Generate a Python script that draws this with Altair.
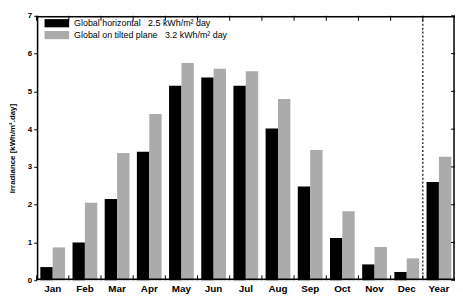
import altair as alt
import pandas as pd

months = ["Jan", "Feb", "Mar", "Apr", "May", "Jun", "Jul", "Aug", "Sep", "Oct", "Nov", "Dec", "Year"]
horizontal = [0.35, 1.0, 2.15, 3.4, 5.15, 5.37, 5.15, 4.02, 2.48, 1.12, 0.42, 0.22, 2.6]
tilted = [0.87, 2.05, 3.37, 4.4, 5.75, 5.6, 5.53, 4.8, 3.45, 1.83, 0.88, 0.58, 3.27]
series = ["Global horizontal\u00a0\u00a0\u00a02.5 kWh/m² day",
          "Global on tilted plane\u00a0\u00a0\u00a03.2 kWh/m² day"]
y_ticks = [0, 1, 2, 3, 4, 5, 6, 7]

rows = []
for m, h, t in zip(months, horizontal, tilted):
    rows.append({"month": m, "series": series[0], "value": h})
    rows.append({"month": m, "series": series[1], "value": t})
df = pd.DataFrame(rows)
mdf = pd.DataFrame({"month": months})
ydf = pd.DataFrame({"value": y_ticks})

W, H = 424, 268
FONT = "Liberation Sans"

xscale = alt.Scale(domain=months, paddingInner=0, paddingOuter=0)
yscale = alt.Scale(domain=[0, 7], nice=False)
xaxis = alt.Axis(title=None, ticks=False, domain=False, labelAngle=0,
                 labelFontSize=10, labelFontWeight="bold", labelColor="black",
                 labelFont=FONT, labelPadding=3)
yaxis = alt.Axis(title="Irradiance [kWh/m².day]", values=y_ticks, format="d",
                 grid=False, domain=False, tickSize=3, tickColor="black",
                 labelOverlap=False,
                 labelFontSize=8, labelFontWeight="bold", labelColor="black",
                 labelFont=FONT, labelPadding=2,
                 titleFontSize=8, titleFont=FONT, titleFontWeight="bold",
                 titleColor="black", titlePadding=11)

bars = alt.Chart(df).mark_bar().encode(
    x=alt.X("month:N", scale=xscale, sort=months, axis=xaxis),
    xOffset=alt.XOffset("series:N", sort=series,
                        scale=alt.Scale(paddingInner=0, paddingOuter=0.3)),
    y=alt.Y("value:Q", scale=yscale, axis=yaxis),
    color=alt.Color("series:N", sort=series,
                    scale=alt.Scale(domain=series, range=["#000000", "#ababab"]),
                    legend=alt.Legend(title=None, orient="none", legendX=16, legendY=3,
                                      padding=0,
                                      symbolType="M-3,-1h6v2h-6z", symbolSize=69,
                                      symbolStrokeWidth=0, labelFontSize=9,
                                      labelFont=FONT, labelColor="black",
                                      rowPadding=2, labelOffset=13,
                                      labelLimit=300)),
)

bottom_ticks = alt.Chart(mdf).mark_rule(color="black", strokeWidth=1).encode(
    x=alt.X("month:N", sort=months, scale=xscale, bandPosition=0, axis=xaxis),
    y=alt.value(H), y2=alt.value(H - 5),
)
top_ticks = alt.Chart(mdf).mark_rule(color="black", strokeWidth=1).encode(
    x=alt.X("month:N", sort=months, scale=xscale, bandPosition=0, axis=xaxis),
    y=alt.value(0), y2=alt.value(5),
)
right_ticks = alt.Chart(ydf).mark_rule(color="black", strokeWidth=1).encode(
    y=alt.Y("value:Q", scale=yscale, axis=yaxis),
    x=alt.value(W - 4), x2=alt.value(W),
)
divider = alt.Chart(pd.DataFrame({"month": ["Year"]})).mark_rule(
    color="black", strokeWidth=1.2, strokeDash=[2, 2]
).encode(
    x=alt.X("month:N", sort=months, scale=xscale, bandPosition=0, axis=xaxis),
    y=alt.value(0), y2=alt.value(H),
)
# frame, nudged just inside the plot edges
frame_top = alt.Chart(pd.DataFrame({"value": [7]})).mark_rule(
    color="black", strokeWidth=1.5, yOffset=1
).encode(
    y=alt.Y("value:Q", scale=yscale, axis=yaxis),
    x=alt.value(0), x2=alt.value(W),
)
frame_bot = alt.Chart(pd.DataFrame({"value": [0]})).mark_rule(
    color="black", strokeWidth=1.5, yOffset=-1
).encode(
    y=alt.Y("value:Q", scale=yscale, axis=yaxis),
    x=alt.value(0), x2=alt.value(W),
)
frame_l = alt.Chart(pd.DataFrame({"month": [months[0]]})).mark_rule(
    color="black", strokeWidth=1.5, xOffset=1
).encode(
    x=alt.X("month:N", sort=months, scale=xscale, bandPosition=0, axis=xaxis),
    y=alt.value(0), y2=alt.value(H),
)
frame_r = alt.Chart(pd.DataFrame({"month": [months[-1]]})).mark_rule(
    color="black", strokeWidth=1.5, xOffset=-1
).encode(
    x=alt.X("month:N", sort=months, scale=xscale, bandPosition=1, axis=xaxis),
    y=alt.value(0), y2=alt.value(H),
)

chart = alt.layer(bars, bottom_ticks, top_ticks, right_ticks, divider,
                  frame_top, frame_bot, frame_l, frame_r).properties(
    width=W, height=H,
    background="white",
    autosize=alt.AutoSizeParams(type="none"),
    padding={"left": 29, "top": 6, "right": 0, "bottom": 14},
)

chart.save("out.html", embed_options={"renderer": "svg", "actions": False})
